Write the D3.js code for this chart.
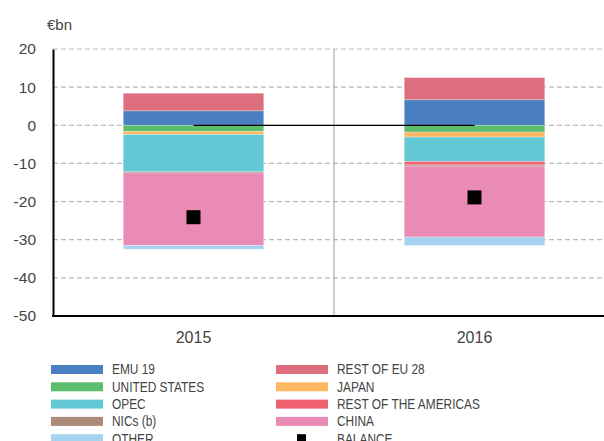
<!DOCTYPE html>
<html>
<head>
<meta charset="utf-8">
<script src="https://cdn.jsdelivr.net/npm/d3@7"></script>
<style>
  html, body { margin: 0; padding: 0; background: #fff; }
  svg { display: block; font-family: 'Liberation Sans', Arial, sans-serif; }
  .legend text { font-size: 14px; fill: #444; }
</style>
</head>
<body>
<svg id="chart" width="604" height="441"></svg>
<script>
// years and contributions to the balance, €bn
const years = ['2015', '2016'];
const emu19 = [3.8, 6.7];
const restEU28 = [4.6, 5.8];
const unitedStates = [-1.6, -1.8];
const japan = [-0.8, -1.3];
const opec = [-9.8, -6.4];
const restAmericas = [0, -0.9];
const nics = [-0.3, -0.3];
const china = [-19.0, -18.6];
const other = [-1.0, -2.2];
const balance = [-24.1, -18.9];
const yTicks = [20, 10, 0, -10, -20, -30, -40, -50];

// series: key, label, colour, values (stack order: positives then negatives outward)
const series = [
  {key: 'emu', label: 'EMU 19', color: '#4a7fc1', values: emu19},
  {key: 'restEU', label: 'REST OF EU 28', color: '#dc6e7e', values: restEU28},
  {key: 'us', label: 'UNITED STATES', color: '#5cbd6c', values: unitedStates},
  {key: 'japan', label: 'JAPAN', color: '#fdb760', values: japan},
  {key: 'opec', label: 'OPEC', color: '#62c8d3', values: opec},
  {key: 'roa', label: 'REST OF THE AMERICAS', color: '#ef6171', values: restAmericas},
  {key: 'nics', label: 'NICs (b)', color: '#ad8b77', values: nics},
  {key: 'china', label: 'CHINA', color: '#ea8bb5', values: china},
  {key: 'other', label: 'OTHER', color: '#a5d3f0', values: other}
];
const legendLeft = ['emu', 'us', 'opec', 'nics', 'other'];
const legendRight = ['restEU', 'japan', 'roa', 'china'];

const svg = d3.select('#chart');
const margin = {top: 49, left: 53, bottom: 316};
const plotRight = 615;

const table = years.map((yr, i) => {
  const row = {year: yr};
  series.forEach(s => row[s.key] = s.values[i]);
  return row;
});
const stacked = d3.stack()
  .keys(series.map(s => s.key))
  .offset(d3.stackOffsetDiverging)(table);

const x = d3.scaleBand()
  .domain(years)
  .range([margin.left, plotRight])
  .paddingInner(0.5)
  .paddingOuter(0.25);

const y = d3.scaleLinear()
  .domain([-50, 20])
  .range([margin.bottom, margin.top]);

// gridlines
svg.append('g')
  .selectAll('line')
  .data(yTicks)
  .join('line')
  .attr('x1', margin.left)
  .attr('x2', plotRight)
  .attr('y1', d => y(d))
  .attr('y2', d => y(d))
  .attr('stroke', '#bdbdbd')
  .attr('stroke-width', 1.2)
  .attr('stroke-dasharray', '5,3');

// separator between years
const step = x.step();
svg.append('line')
  .attr('x1', margin.left + step).attr('x2', margin.left + step)
  .attr('y1', margin.top).attr('y2', margin.bottom)
  .attr('stroke', '#999').attr('stroke-width', 1);

// stacked bars
const color = d3.scaleOrdinal().domain(series.map(s => s.key)).range(series.map(s => s.color));
svg.append('g')
  .selectAll('g')
  .data(stacked)
  .join('g')
  .attr('fill', d => color(d.key))
  .selectAll('rect')
  .data(d => d)
  .join('rect')
  .attr('x', d => x(d.data.year))
  .attr('width', x.bandwidth())
  .attr('y', d => y(d[1]))
  .attr('height', d => Math.max(0, y(d[0]) - y(d[1])))
  .attr('stroke', '#fff')
  .attr('stroke-opacity', 0.35)
  .attr('stroke-width', 0.8);

// zero line between year centres
svg.append('path')
  .datum(years)
  .attr('d', d3.line().x(d => x(d) + x.bandwidth() / 2).y(() => y(0)))
  .attr('stroke', '#000')
  .attr('stroke-width', 1.3)
  .attr('fill', 'none');

// balance markers
const sq = 14;
svg.append('g')
  .selectAll('rect')
  .data(years)
  .join('rect')
  .attr('x', (d, i) => x(d) + x.bandwidth() / 2 - sq / 2)
  .attr('y', (d, i) => y(balance[i]) - sq / 2)
  .attr('width', sq)
  .attr('height', sq)
  .attr('fill', '#000');

// y axis
const yAxis = svg.append('g')
  .attr('transform', `translate(${margin.left},0)`)
  .call(d3.axisLeft(y).tickValues(yTicks).tickFormat(d => String(d)).tickSize(0).tickPadding(17));
yAxis.select('.domain').attr('stroke', '#000').attr('stroke-width', 2);
yAxis.selectAll('text').attr('font-size', 15.5).attr('fill', '#444')
  .attr('font-family', "'Liberation Sans', Arial, sans-serif");

// x axis
const xAxis = svg.append('g')
  .attr('transform', `translate(0,${margin.bottom})`)
  .call(d3.axisBottom(x).tickSize(0).tickPadding(16));
xAxis.select('.domain').attr('stroke', '#000').attr('stroke-width', 2)
  .attr('d', `M${margin.left - 1},0H${plotRight}`);
xAxis.selectAll('text').attr('font-size', 16).attr('fill', '#444')
  .attr('font-family', "'Liberation Sans', Arial, sans-serif");

// unit label
svg.append('text')
  .attr('x', 47).attr('y', 30)
  .attr('font-size', 15).attr('fill', '#444')
  .text('€bn');

// legend (text squeezed horizontally to mimic the condensed face)
const legend = svg.append('g').attr('class', 'legend');
const rowY = i => 369.5 + i * 17.3;
const byKey = Object.fromEntries(series.map(s => [s.key, s]));
const addLabel = (tx, ty, label) => legend.append('text')
  .attr('transform', `translate(${tx},${ty}) scale(0.85,1)`)
  .attr('dy', '0.35em')
  .text(label);
[[legendLeft, 51, 112], [legendRight, 276, 337]].forEach(([keys, sx, tx]) => {
  keys.forEach((k, i) => {
    legend.append('rect')
      .attr('x', sx).attr('y', rowY(i) - 4.5)
      .attr('width', 52).attr('height', 9)
      .attr('fill', byKey[k].color);
    addLabel(tx, rowY(i), byKey[k].label);
  });
});
legend.append('rect')
  .attr('x', 297).attr('y', rowY(4) - 4.5)
  .attr('width', 9).attr('height', 9)
  .attr('fill', '#000');
addLabel(337, rowY(4), 'BALANCE');
</script>
</body>
</html>
